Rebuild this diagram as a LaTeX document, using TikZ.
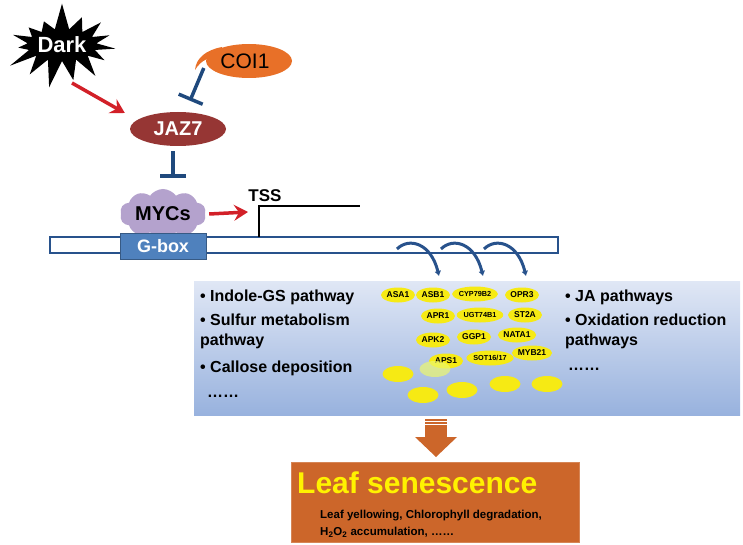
\documentclass[tikz,border=0pt]{standalone}
\usepackage{fontspec}
\setmainfont{Liberation Sans}
\usetikzlibrary{shapes.geometric,shapes.symbols,arrows.meta}
\definecolor{jazred}{RGB}{150,54,52}
\definecolor{coiorange}{RGB}{232,112,40}
\definecolor{inhblue}{RGB}{31,73,125}
\definecolor{mycpurple}{RGB}{180,162,205}
\definecolor{actred}{RGB}{210,32,40}
\definecolor{dnablue}{RGB}{40,82,140}
\definecolor{gboxblue}{RGB}{79,129,189}
\definecolor{geneyellow}{RGB}{246,234,20}
\definecolor{boxtop}{RGB}{224,231,245}
\definecolor{boxbot}{RGB}{152,178,222}
\definecolor{senorange}{RGB}{204,102,42}
\definecolor{senyellow}{RGB}{255,242,0}

\begin{document}
\begin{tikzpicture}[x=1pt,y=-1pt,
  big/.style={font=\bfseries\fontsize{20}{24}\selectfont},
  gene/.style={ellipse,fill=geneyellow,inner sep=0pt,minimum width=34pt,minimum height=15pt,font=\bfseries\fontsize{8.5}{9}\selectfont},
  genesm/.style={gene,font=\bfseries\fontsize{7.3}{8}\selectfont},
  pwtext/.style={anchor=west,align=left,inner sep=0pt,font=\bfseries\fontsize{16}{20}\selectfont},
  act/.style={draw=actred,line width=3.5pt,-{Stealth[length=14pt,width=16pt,inset=5pt]}},
  inhib/.style={draw=inhblue,line width=3.5pt,-{Bar[width=26pt]}},
  curl/.style={draw=dnablue,line width=3pt,-{Latex[length=5pt,width=7pt]}}]
\useasboundingbox (0,0) rectangle (743,545);

% promoter and gene
\node[draw=dnablue,line width=2pt,fill=white,minimum width=508pt,minimum height=16pt,inner sep=0pt] (dna) at (304,245) {};
\node[cloud,cloud puffs=10,cloud puff arc=110,aspect=2,fill=mycpurple,minimum width=86pt,minimum height=44pt,inner sep=0pt,big] (myc) at (163,214) {MYCs};
\node[rectangle,fill=gboxblue,draw=gboxblue!70!black,line width=1pt,minimum width=86pt,minimum height=26pt,text=white,inner sep=0pt,font=\bfseries\fontsize{18}{20}\selectfont] (gbox) at (163,246) {G-box};
\coordinate (prom) at (259,206);
\draw[line width=2pt] (259,237) -- (prom) -- (360,206);
\node[font=\bfseries\fontsize{17}{20}\selectfont] (tss) at (265,196) {TSS};
\draw[act] ([xshift=4pt]myc.east) -- ([shift={(-11,6)}]prom);
\foreach \s in {397,441,484}
  \draw[curl] (\s,249) .. controls (\s+12,237) and (\s+34,243) .. (\s+42,276);

% target genes
\node[top color=boxtop,bottom color=boxbot,minimum width=546pt,minimum height=134pt,inner sep=0pt] (pbox) at (467,348) {};
\node[pwtext] (indole) at (200,297) {• Indole-GS pathway};
\node[pwtext] (sulfur) at (200,331) {• Sulfur metabolism\\pathway};
\node[pwtext] (callose) at (200,368) {• Callose deposition};
\node[pwtext] (moreL) at (207,396) {……};
\node[pwtext] (ja) at (565,297) {• JA pathways};
\node[pwtext] (oxid) at (565,331) {• Oxidation reduction\\pathways};
\node[pwtext] (moreR) at (568,369) {……};
\foreach \n/\x/\y/\t in {asa/398/295/ASA1, asb/433/295/ASB1, opr/522/295/OPR3,
    apr/438/316/APR1, st/525/315/ST2A, apk/433/340/APK2, ggp/474/337/GGP1,
    nata/517/335/NATA1, aps/446/361/APS1, myb/532/353/MYB21}
  \node[gene] (\n) at (\x,\y) {\t};
\foreach \n/\x/\y/\t in {cyp/475/294/CYP79B2, ugt/480/315/UGT74B1, sot/490/358/{SOT16/17}}
  \node[genesm,minimum width=36pt] (\n) at (\x,\y) {\t};
\foreach \x/\y in {398/374, 423/395, 462/390, 505/384, 547/384}
  \fill[geneyellow] (\x,\y) ellipse (15.5 and 8);
\fill[geneyellow!60!lime!60!white,fill opacity=0.7] (435,369) ellipse (15.5 and 8);

% outcome
\fill[senorange] (425,419) rectangle (447,437);
\draw[white,line width=0.8pt] (425,421.5) -- (447,421.5) (425,424.5) -- (447,424.5);
\fill[senorange] (415,437) -- (457,437) -- (436,457) -- cycle;
\node[fill=senorange,draw=senorange!80!white,minimum width=288pt,minimum height=80pt,inner sep=0pt] (sen) at (435,502) {};
\node[anchor=base west,inner sep=0pt,text=senyellow,font=\bfseries\fontsize{30}{32}\selectfont] (leaf) at (297,493) {Leaf senescence};
\node[anchor=north west,align=left,inner sep=0pt,font=\bfseries\fontsize{11.5}{17}\selectfont] (symp) at (320,510)
  {Leaf yellowing, Chlorophyll degradation,\\H\textsubscript{2}O\textsubscript{2} accumulation, ……};

% signalling
\node[starburst,starburst points=15,starburst point height=28pt,random starburst=7,fill=black,text=white,minimum width=124pt,minimum height=88pt,inner sep=0pt,font=\bfseries\fontsize{22}{24}\selectfont] (dark) at (62,45) {Dark};
\fill[coiorange] (222,47) .. controls (206,50) and (196,58) .. (195,70) .. controls (201,60) and (210,56) .. (220,58) -- cycle;
\node[ellipse,fill=coiorange,minimum width=86pt,minimum height=34pt,inner sep=0pt,font=\fontsize{21}{24}\selectfont] (coi) at (249,61) {\hspace*{-8pt}COI1};
\node[ellipse,fill=jazred,text=white,minimum width=96pt,minimum height=34pt,inner sep=0pt,big] (jaz) at (178,129) {JAZ7};
\draw[act] ([shift={(10,38)}]dark.center) -- ([shift={(-5,-16)}]jaz.west);
\draw[inhib] ([shift={(-2,7)}]coi.west) -- ([shift={(12,-11)}]jaz.north);
\draw[inhib] ([shift={(-5,5)}]jaz.south) -- ([shift={(10,-11)}]myc.north);
\end{tikzpicture}
\end{document}
